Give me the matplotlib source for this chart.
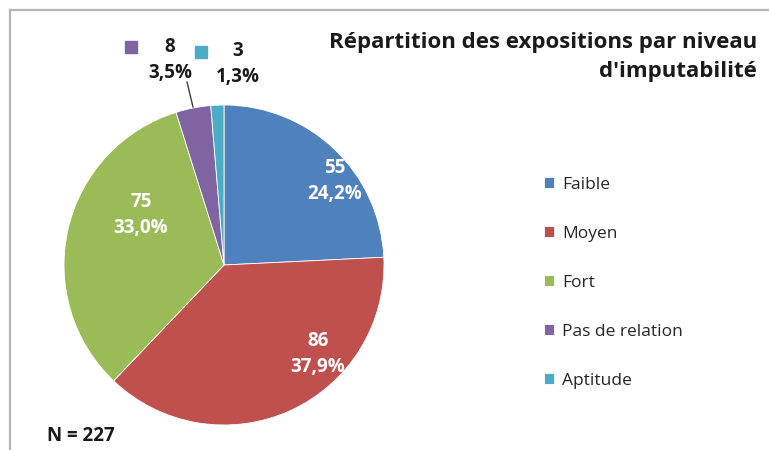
import matplotlib.pyplot as plt
from matplotlib.lines import Line2D

plt.rcParams['font.family'] = ['Open Sans', 'DejaVu Sans']

# data
categories = ['Faible', 'Moyen', 'Fort', 'Pas de relation', 'Aptitude']
counts = [55, 86, 75, 8, 3]
pcts = ['24,2%', '37,9%', '33,0%', '3,5%', '1,3%']
colors = ['#4F81BD', '#C0504D', '#9BBB59', '#8064A2', '#4BACC6']
total_n = 227

W, H = 769, 450
fig = plt.figure(figsize=(W / 100, H / 100), dpi=100)

# frame lines (top and left, like the cropped chart box)
fig.add_artist(Line2D([10 / W, 1], [1 - 10 / H, 1 - 10 / H], color='#b4b4b4', lw=1.6))
fig.add_artist(Line2D([10 / W, 10 / W], [1 - 10 / H, 0], color='#b4b4b4', lw=1.6))

# pie: center (224, 265) px, radius 160 px
cx, cy, r = 224, 265, 160
ax = fig.add_axes([(cx - r) / W, (H - cy - r) / H, 2 * r / W, 2 * r / H])
wedges, _ = ax.pie(counts, colors=colors, startangle=90, counterclock=False,
                   radius=1, wedgeprops=dict(edgecolor='white', linewidth=0.6))
ax.set_xlim(-1, 1)
ax.set_ylim(-1, 1)
ax.set_aspect('equal')
ax.axis('off')


def px(x, y):
    return ((x - cx) / r, (cy - y) / r)


# inside labels (pixel position of label centre)
inside_pos = [(335, 181), (318, 354), (141, 215)]
for i, p in enumerate(inside_pos):
    x, y = px(*p)
    ax.text(x, y, f'{counts[i]}\n{pcts[i]}', color='white', fontsize=13.5,
            fontweight='bold', ha='center', va='center', linespacing=1.35)

# outside labels with legend key
out_pos = {3: (170, 60), 4: (238, 64)}
key_pos = {3: (131, 47), 4: (201, 52)}
for i in (3, 4):
    x, y = px(*out_pos[i])
    ax.text(x, y, f'{counts[i]}\n{pcts[i]}', color='#1a1a1a', fontsize=13.5,
            fontweight='bold', ha='center', va='center', linespacing=1.35)
    kx, ky = px(*key_pos[i])
    ax.plot(kx, ky, 's', color=colors[i], markersize=8, clip_on=False)

# leader line for "Pas de relation"
x0, y0 = px(187, 82)
x1, y1 = px(193, 107)
ax.plot([x0, x1], [y0, y1], color='#404040', lw=1, clip_on=False)

# title
fig.text(757 / W, 1 - 57 / H, "Répartition des expositions par niveau\nd'imputabilité",
         ha='right', va='center', fontsize=16, fontweight='bold', color='#1a1a1a',
         linespacing=1.5)

# legend
fig.legend(wedges, categories, loc='center left',
           bbox_to_anchor=(528 / W, 1 - 283 / H), frameon=False,
           fontsize=12.5, labelspacing=1.9, handlelength=0.6, handleheight=0.6,
           handletextpad=0.45, labelcolor='#262626')

fig.text(47 / W, 1 - 436 / H, f'N = {total_n}', fontsize=13.5, fontweight='bold',
         color='#1a1a1a', ha='left', va='center')

fig.savefig('out.png', dpi=100)
